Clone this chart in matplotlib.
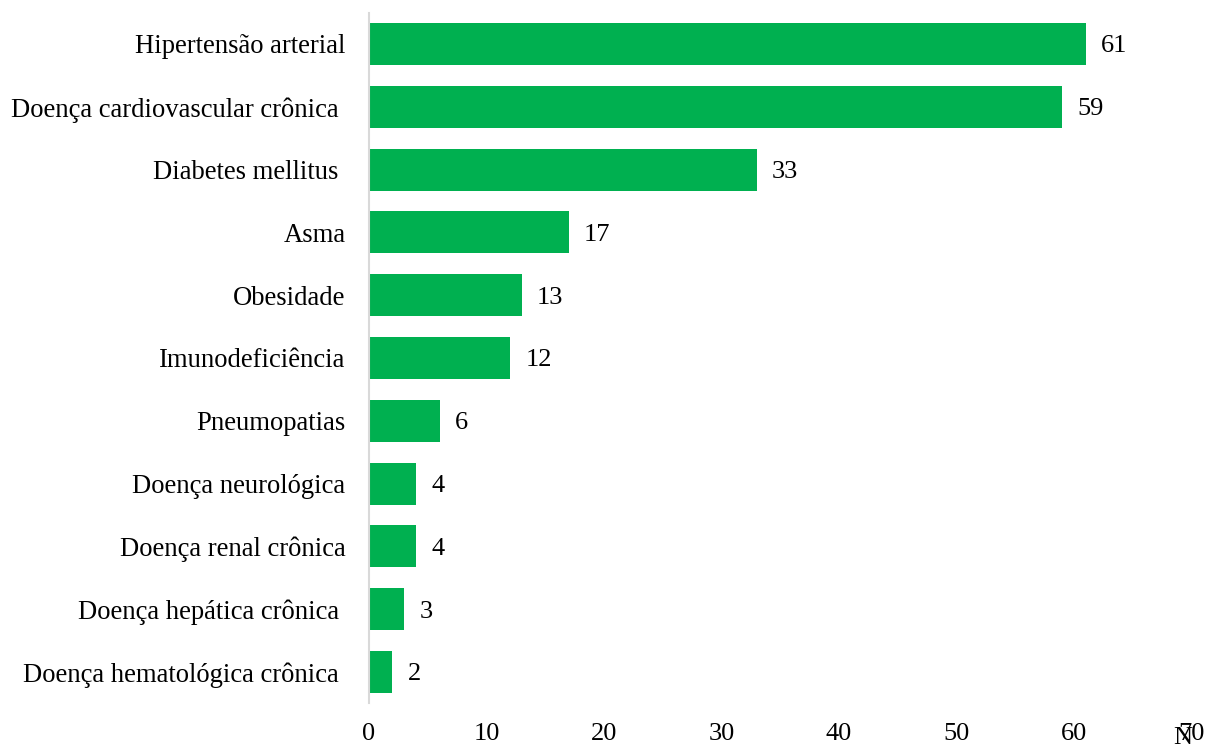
import matplotlib.pyplot as plt

categories = [
    "Hipertensão arterial",
    "Doença cardiovascular crônica ",
    "Diabetes mellitus ",
    "Asma",
    "Obesidade",
    "Imunodeficiência",
    "Pneumopatias",
    "Doença neurológica",
    "Doença renal crônica",
    "Doença hepática crônica ",
    "Doença hematológica crônica ",
]
values = [61, 59, 33, 17, 13, 12, 6, 4, 4, 3, 2]
xticks = [0, 10, 20, 30, 40, 50, 60, 70]

plt.rcParams['font.family'] = ['Liberation Serif', 'DejaVu Serif']

fig = plt.figure(figsize=(12.15, 7.49), dpi=100)
ax = fig.add_axes([0.3037, 0.0609, 0.677, 0.9223])

ypos = list(range(len(categories)))
ax.barh(ypos, values, height=0.67, color='#00B050')
for y, v in zip(ypos, values):
    ax.text(v + 1.3, y, str(v), va='center_baseline', ha='left', fontsize=19)

ax.set_ylim(len(categories) - 0.5, -0.5)
ax.set_xlim(0, 70)
ax.set_yticks(ypos)
ax.set_yticklabels(categories, fontsize=19.2, va='center_baseline')
ax.set_xticks(xticks)
ax.set_xticklabels([str(t) for t in xticks], fontsize=19)
ax.tick_params(axis='y', length=0, pad=17)
ax.tick_params(axis='x', length=0, pad=14)

for side in ['top', 'right', 'bottom']:
    ax.spines[side].set_visible(False)
ax.spines['left'].set_color('#d9d9d9')
ax.spines['left'].set_linewidth(1.5)

# axis name sits right on top of the last tick label
fig.text(1183 / 1215, 1 - 738 / 749, "N", ha='center', va='center', fontsize=19)

fig.savefig('out.png', dpi=100)
